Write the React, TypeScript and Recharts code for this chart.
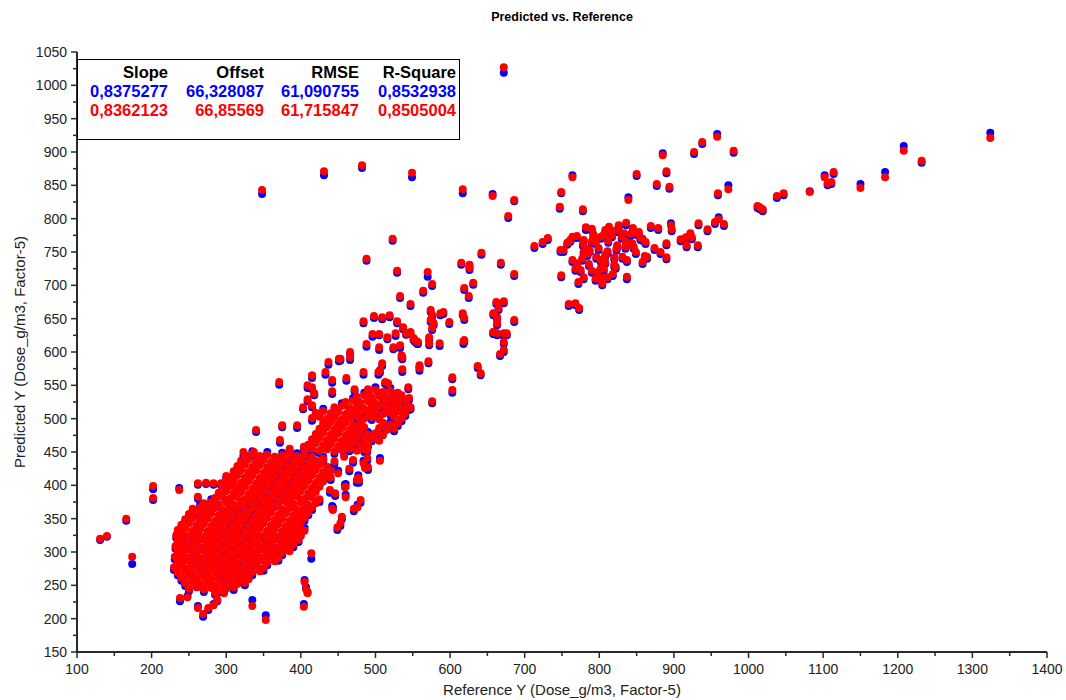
import { ScatterChart, Scatter, XAxis, YAxis, Label } from "recharts";

// each point: [reference, predicted (blue model), predicted (red model)]
type P = [number, number, number];

// dense core around ref 230-440
const blobUpper: P[] = [
  [325,441,445],[335,451,447],[345,440,444],[355,450,446],[365,439,443],[375,449,445],[385,443,447],[395,448,444],[405,442,446],[415,447,443],
  [320,433,437],[330,443,439],[340,432,436],[350,442,438],[360,431,435],[370,441,437],[380,435,439],[390,440,436],[400,434,438],[410,439,435],[420,433,437],[430,443,439],
  [315,425,429],[325,435,431],[335,424,428],[345,434,430],[355,423,427],[365,433,429],[375,427,431],[385,432,428],[395,426,430],[405,431,427],[415,425,429],[425,435,431],[435,424,428],
  [310,417,421],[320,427,423],[330,416,420],[340,426,422],[350,415,419],[360,425,421],[370,419,423],[380,424,420],[390,418,422],[400,423,419],[410,417,421],[420,427,423],[430,416,420],[440,426,422],
  [305,409,413],[315,419,415],[325,408,412],[335,418,414],[345,407,411],[355,417,413],[365,411,415],[375,416,412],[385,410,414],[395,415,411],[405,409,413],[415,419,415],[425,408,412],[435,418,414],
  [300,401,405],[310,411,407],[320,400,404],[330,410,406],[340,399,403],[350,409,405],[360,403,407],[370,408,404],[380,402,406],[390,407,403],[400,401,405],[410,411,407],[420,400,404],[430,410,406],
  [295,393,397],[305,403,399],[315,392,396],[325,402,398],[335,391,395],[345,401,397],[355,395,399],[365,400,396],[375,394,398],[385,399,395],[395,393,397],[405,403,399],[415,392,396],[425,402,398],
  [290,385,389],[300,395,391],[310,384,388],[320,394,390],[330,383,387],[340,393,389],[350,387,391],[360,392,388],[370,386,390],[380,391,387],[390,385,389],[400,395,391],[410,384,388],[420,394,390],
  [285,377,381],[295,387,383],[305,376,380],[315,386,382],[325,375,379],[335,385,381],[345,379,383],[355,384,380],[365,378,382],[375,383,379],[385,377,381],[395,387,383],[405,376,380],[415,386,382],[425,375,379],
  [270,369,373],[280,379,375],[290,368,372],[300,378,374],[310,367,371],[320,377,373],[330,371,375],[340,376,372],[350,370,374],[360,375,371],[370,369,373],[380,379,375],[390,368,372],[400,378,374],[410,367,371],[420,377,373],
];

const blobMiddle: P[] = [
  [255,361,365],[265,371,367],[275,360,364],[285,370,366],[295,359,363],[305,369,365],[315,363,367],[325,368,364],[335,362,366],[345,367,363],[355,361,365],[365,371,367],[375,360,364],[385,370,366],[395,359,363],[405,369,365],[415,363,367],
  [250,353,357],[260,363,359],[270,352,356],[280,362,358],[290,351,355],[300,361,357],[310,355,359],[320,360,356],[330,354,358],[340,359,355],[350,353,357],[360,363,359],[370,352,356],[380,362,358],[390,351,355],[400,361,357],[410,355,359],
  [245,345,349],[255,355,351],[265,344,348],[275,354,350],[285,343,347],[295,353,349],[305,347,351],[315,352,348],[325,346,350],[335,351,347],[345,345,349],[355,355,351],[365,344,348],[375,354,350],[385,343,347],[395,353,349],[405,347,351],
  [240,337,341],[250,347,343],[260,336,340],[270,346,342],[280,335,339],[290,345,341],[300,339,343],[310,344,340],[320,338,342],[330,343,339],[340,337,341],[350,347,343],[360,336,340],[370,346,342],[380,335,339],[390,345,341],[400,339,343],
  [235,329,333],[245,339,335],[255,328,332],[265,338,334],[275,327,331],[285,337,333],[295,331,335],[305,336,332],[315,330,334],[325,335,331],[335,329,333],[345,339,335],[355,328,332],[365,338,334],[375,327,331],[385,337,333],[395,331,335],[405,336,332],
  [233,321,325],[240,331,327],[250,320,324],[260,330,326],[270,319,323],[280,329,325],[290,323,327],[300,328,324],[310,322,326],[320,327,323],[330,321,325],[340,331,327],[350,320,324],[360,330,326],[370,319,323],[380,329,325],[390,323,327],[400,328,324],
  [235,313,317],[245,323,319],[255,312,316],[265,322,318],[275,311,315],[285,321,317],[295,315,319],[305,320,316],[315,314,318],[325,319,315],[335,313,317],[345,323,319],[355,312,316],[365,322,318],[375,311,315],[385,321,317],[395,315,319],
];

const blobLower: P[] = [
  [232,305,309],[240,315,311],[250,304,308],[260,314,310],[270,303,307],[280,313,309],[290,307,311],[300,312,308],[310,306,310],[320,311,307],[330,305,309],[340,315,311],[350,304,308],[360,314,310],[370,303,307],[380,313,309],[390,307,311],
  [235,297,301],[245,307,303],[255,296,300],[265,306,302],[275,295,299],[285,305,301],[295,299,303],[305,304,300],[315,298,302],[325,303,299],[335,297,301],[345,307,303],[355,296,300],[365,306,302],[375,295,299],[385,305,301],
  [231,289,293],[240,299,295],[250,288,292],[260,298,294],[270,287,291],[280,297,293],[290,291,295],[300,296,292],[310,290,294],[320,295,291],[330,289,293],[340,299,295],[350,288,292],[360,298,294],[370,287,291],
  [235,281,285],[245,291,287],[255,280,284],[265,290,286],[275,279,283],[285,289,285],[295,283,287],[305,288,284],[315,282,286],[325,287,283],[335,281,285],[345,291,287],[355,280,284],[365,290,286],
  [230,273,277],[240,283,279],[250,272,276],[260,282,278],[270,271,275],[280,281,277],[290,275,279],[300,280,276],[310,274,278],[320,279,275],[330,273,277],[340,283,279],[350,272,276],
  [235,265,269],[245,275,271],[255,264,268],[265,274,270],[275,263,267],[285,273,269],[295,267,271],[305,272,268],[315,266,270],[325,271,267],[335,265,269],[345,275,271],
  [240,257,261],[250,267,263],[260,256,260],[270,266,262],[280,255,259],[290,265,261],[300,259,263],[310,264,260],[320,258,262],[330,263,259],
  [245,249,253],[255,259,255],[265,248,252],[275,258,254],[285,247,251],[295,257,253],[305,251,255],[315,256,252],[325,250,254],
  [250,241,245],[260,251,247],[270,240,244],[280,250,246],[290,239,243],[300,249,245],[310,243,247],
];

// diagonal band, ref 400-550
const bandPts: P[] = [
  [405,449,453],[415,459,455],[425,448,452],[435,458,454],[445,447,451],[455,457,453],[465,451,455],[475,456,452],[485,450,454],
  [410,457,461],[420,467,463],[430,456,460],[440,466,462],[450,455,459],[460,465,461],[470,459,463],[480,464,460],[490,458,462],
  [415,465,469],[425,475,471],[435,464,468],[445,474,470],[455,463,467],[465,473,469],[475,467,471],[485,472,468],[495,466,470],[505,471,467],
  [420,473,477],[430,483,479],[440,472,476],[450,482,478],[460,471,475],[470,481,477],[480,475,479],[490,480,476],[500,474,478],[510,479,475],
  [425,481,485],[435,491,487],[445,480,484],[455,490,486],[465,479,483],[475,489,485],[485,483,487],[505,482,486],[515,487,483],[525,481,485],
  [430,489,493],[440,499,495],[450,488,492],[460,498,494],[470,487,491],[480,497,493],[510,490,494],[520,495,491],[530,489,493],
  [415,497,501],[425,507,503],[435,496,500],[445,506,502],[455,495,499],[465,505,501],[475,499,503],[485,504,500],[495,498,502],[505,503,499],[525,507,503],[535,496,500],
  [420,505,509],[430,515,511],[440,504,508],[450,514,510],[460,503,507],[470,513,509],[480,507,511],[490,512,508],[500,506,510],[510,511,507],[520,505,509],[530,515,511],[540,504,508],
  [445,513,517],[455,523,519],[465,512,516],[475,522,518],[485,511,515],[495,521,517],[505,515,519],[515,520,516],[525,514,518],[535,519,515],[545,513,517],
  [460,521,525],[470,531,527],[480,520,524],[490,530,526],[500,519,523],[510,529,525],[520,523,527],[530,528,524],[540,522,526],
  [475,529,533],[485,539,535],[495,528,532],[505,538,534],[515,527,531],[525,537,533],[535,531,535],
  [490,537,541],[500,547,543],[510,536,540],[520,546,542],[530,535,539],
  [430,436,440],[445,432,436],[458,447,443],[470,434,438],[465,421,425],[450,422,418],[440,408,412],[428,409,405],[475,404,408],[460,402,398],
  [372,464,468],[385,451,455],[397,440,443],[404,455,458],[489,450,453],[484,437,433],[323,444,450],[337,444,450],
];

const edgePts: P[] = [
  [439,389,393],[459,401,397],[480,374,378],[443,367,363],[453,339,343],[449,333,337],[476,371,367],[477,415,411],[446,384,388],[460,386,382],
  [489,437,441],[506,441,437],[490,423,427],[486,430,426],[478,404,408],[471,361,365],[455,349,353],[442,369,365],
  [414,290,298],[405,258,255],[407,247,244],[409,240,238],[404,222,218],[386,330,333],[381,306,303],[364,296,293],[390,321,318],[397,315,318],[399,331,328],
];

const lowPts: P[] = [
  [238,226,231],[248,234,232],[262,219,216],[269,203,207],[276,213,216],[283,222,220],[285,236,238],[288,226,228],[297,240,238],[335,228,219],[353,205,198],
];

const leftPts: P[] = [
  [131,318,320],[140,323,324],[166,347,350],[174,282,293],[202,394,399],[202,378,381],[237,396,393],[262,401,403],[273,402,404],[283,401,403],
  [300,411,414],[293,400,403],[309,400,402],[262,380,383],[278,369,372],[258,356,360],[269,355,358],[340,480,483],[375,487,490],[395,486,490],
];

const midPts: P[] = [
  [496,623,627],[505,625,627],[516,619,622],[527,624,628],[541,626,628],[551,618,621],[556,612,615],[572,618,622],[572,610,613],[586,609,613],
  [618,612,616],[658,627,630],[672,624,628],[672,612,615],[672,600,603],[667,594,597],[488,608,612],[505,603,607],[524,604,607],[533,606,610],
  [535,591,595],[536,570,574],[536,589,592],[466,597,600],[466,588,592],[453,587,590],[437,581,585],[509,579,583],[506,569,573],[504,566,570],
  [559,577,580],[559,572,576],[571,583,586],[637,576,579],[641,565,568],[603,559,562],[603,539,543],[576,523,526],[433,566,570],[415,561,565],
  [442,554,558],[409,546,550],[415,544,547],[418,535,538],[409,526,529],[403,514,517],[415,517,520],[461,557,561],[484,566,570],[513,552,555],
  [517,549,553],[490,541,544],[472,541,544],[508,535,538],[517,528,531],[532,525,528],[544,544,547],[545,528,531],[543,514,517],[537,505,508],
  [547,514,517],[442,537,541],[451,586,590],[371,551,555],
];

const upperMidPts: P[] = [
  [523,767,770],[488,737,740],[529,719,722],[570,713,720],[576,699,702],[564,689,692],[533,681,684],[547,669,672],[615,731,734],[626,728,731],
  [626,723,726],[642,746,749],[668,731,734],[686,714,717],[631,701,704],[619,693,696],[625,681,684],[713,756,759],[724,762,765],[731,768,771],
  [498,651,654],[509,649,652],[519,652,655],[484,643,646],[529,643,646],[537,634,637],[547,627,630],[553,615,618],[557,612,615],[574,660,663],
  [576,652,655],[574,645,648],[578,640,643],[576,633,636],[587,655,658],[591,657,660],[599,642,645],[617,655,658],[619,648,651],[619,615,618],
  [662,672,675],[672,673,676],[658,655,658],[665,663,666],[663,649,652],[663,640,643],[658,627,630],[663,625,628],[676,625,628],[686,645,648],
  [678,801,804],[686,826,828],[759,669,672],[768,670,673],[773,663,666],
];

const topPts: P[] = [
  [348,837,843],[431,865,871],[482,876,880],[549,862,869],[617,838,844],[657,837,834],[672,1019,1027],[764,865,862],[749,838,840],[747,815,818],[778,811,814],
];

const rightPts: P[] = [
  [839,832,828],[877,849,852],[890,868,871],[894,845,848],[959,835,838],[973,850,844],[1012,816,819],[1019,811,814],[1038,831,834],[1047,835,838],
  [958,927,923],[938,912,915],[927,897,900],[980,899,902],[885,898,895],[850,864,867],[1015,814,817],[1082,841,840],[1102,865,862],[1114,867,870],
  [1106,850,853],[1111,852,855],[1150,852,846],[1183,870,862],[1208,909,902],[1232,884,887],[1324,929,921],
];

const rightCluster: P[] = [
  [836,790,794],[782,783,787],[792,773,777],[869,786,789],[879,783,786],[896,793,790],[897,781,784],[909,766,769],[916,769,772],[922,775,778],
  [917,757,760],[932,757,760],[924,769,772],[933,790,793],[945,781,784],[955,792,795],[960,802,799],[967,789,792],[890,760,763],[890,739,742],
  [882,747,750],[874,753,756],[861,741,744],[858,732,735],[849,747,750],[855,768,771],[862,762,765],[851,775,778],[837,709,713],[749,712,715],
  [772,702,705],[779,709,712],[795,707,710],[804,708,711],[804,700,703],[811,709,712],[818,714,717],[802,735,738],[802,723,726],[798,717,720],
  [752,750,753],[761,765,768],[764,735,738],[770,730,733],[777,737,740],[779,765,768],[784,752,755],[768,722,725],[748,750,753],[764,770,773],
  [779,747,750],[775,720,723],[795,762,765],[802,770,773],[808,780,783],[813,785,788],[817,772,775],[824,780,783],[824,757,760],[833,775,778],
  [831,740,743],[837,735,738],[844,760,763],[846,755,758],[853,777,780],[858,767,770],[864,740,743],[790,782,785],[815,780,783],[826,787,790],
  [845,783,786],[770,771,774],[794,769,772],[806,773,776],[830,770,773],[842,774,777],[757,761,764],[778,759,762],[790,763,766],[812,764,767],
  [836,762,765],[787,750,753],[799,753,756],[811,748,751],[823,752,755],[835,755,758],[784,744,747],[796,740,743],[808,743,746],[820,739,742],
  [786,729,732],[808,732,735],[820,728,731],[790,719,722],[806,722,725],[822,725,728],
];

const xTicks = [100,150,200,250,300,350,400,450,500,550,600,650,700,750,800,850,900,950,1000,1050,1100,1150,1200,1250,1300,1350,1400];
const yTicks = [150,175,200,225,250,275,300,325,350,375,400,425,450,475,500,525,550,575,600,625,650,675,700,725,750,775,800,825,850,875,900,925,950,975,1000,1025,1050];

const statHeaders = ["Slope", "Offset", "RMSE", "R-Square"];
const blueStats = ["0,8375277", "66,328087", "61,090755", "0,8532938"];
const redStats = ["0,8362123", "66,85569", "61,715847", "0,8505004"];

const allPts = [...blobUpper, ...blobMiddle, ...blobLower, ...bandPts, ...edgePts, ...lowPts, ...leftPts, ...midPts, ...upperMidPts, ...topPts, ...rightPts, ...rightCluster];
const blueData = allPts.map(([x, b]) => ({ x, y: b }));
const redData = allPts.map(([x, , r]) => ({ x, y: r }));

const FONT = '"Liberation Sans", Arial, sans-serif';
const AX = "#2a2a2a";

const XTick = (p: any) => {
  const axisY = p.y - 10;
  const major = p.payload.value % 100 === 0;
  return (
    <g>
      <line x1={p.x} x2={p.x} y1={axisY} y2={axisY + (major ? 6 : 4)} stroke={AX} strokeWidth={1.5} />
      {major && (
        <text x={p.x} y={axisY + 22} textAnchor="middle" fontSize={14} fontFamily={FONT} fill="#222">{p.payload.value}</text>
      )}
    </g>
  );
};

const YTick = (p: any) => {
  const axisX = p.x + 10;
  const major = p.payload.value % 50 === 0;
  return (
    <g>
      <line x1={axisX} x2={axisX - (major ? 6 : 4)} y1={p.y} y2={p.y} stroke={AX} strokeWidth={1.5} />
      {major && (
        <text x={p.x} y={p.y} dy="0.36em" textAnchor="end" fontSize={14} fontFamily={FONT} fill="#222">{p.payload.value}</text>
      )}
    </g>
  );
};

const Dot = (color: string) => (p: any) => <circle cx={p.cx} cy={p.cy} r={4} fill={color} />;

export default function App() {
  return (
    <div style={{ position: "absolute", left: 0, top: 0, width: 1066, height: 700, background: "#fff", fontFamily: FONT }}>
      <ScatterChart width={1066} height={700} margin={{ top: 52, right: 19, bottom: 0, left: 0 }}>
        <XAxis type="number" dataKey="x" domain={[100, 1400]} ticks={xTicks} interval={0} height={48}
          tickSize={6} tickMargin={4} tickLine={false} axisLine={{ stroke: AX, strokeWidth: 2 }} tick={<XTick />}>
          <Label value="Reference Y (Dose_g/m3, Factor-5)" position="insideBottom" offset={5}
            style={{ fontSize: 15, fontFamily: FONT, fill: "#222" }} />
        </XAxis>
        <YAxis type="number" dataKey="y" domain={[150, 1050]} ticks={yTicks} interval={0} width={77}
          tickSize={6} tickMargin={4} tickLine={false} axisLine={{ stroke: AX, strokeWidth: 2 }} tick={<YTick />}>
          <Label value="Predicted Y (Dose_g/m3, Factor-5)" angle={-90} position="insideLeft" offset={20}
            style={{ fontSize: 15, fontFamily: FONT, fill: "#222", textAnchor: "middle" }} />
        </YAxis>
        <Scatter data={blueData} fill="#0000ff" shape={Dot("#0000ff")} isAnimationActive={false} />
        <Scatter data={redData} fill="#ff0000" shape={Dot("#ff0000")} isAnimationActive={false} />
      </ScatterChart>
      <div style={{ position: "absolute", left: 0, width: 1124, top: 10, textAlign: "center", fontWeight: 700, fontSize: 12.5 }}>
        Predicted vs. Reference
      </div>
      <div style={{ position: "absolute", left: 77, top: 59, width: 383, height: 81, border: "1.5px solid #000", boxSizing: "border-box",
        background: "#fff", display: "grid", gridTemplateColumns: "90px 96px 95px 97px", gridAutoRows: "19px", paddingTop: 3,
        fontWeight: 700, fontSize: 16.5, lineHeight: "19px", textAlign: "right" }}>
        {statHeaders.map((h) => <div key={"h" + h} style={{ color: "#000" }}>{h}</div>)}
        {blueStats.map((v, i) => <div key={"b" + i} style={{ color: "#0000ff" }}>{v}</div>)}
        {redStats.map((v, i) => <div key={"r" + i} style={{ color: "#ff0000" }}>{v}</div>)}
      </div>
    </div>
  );
}
